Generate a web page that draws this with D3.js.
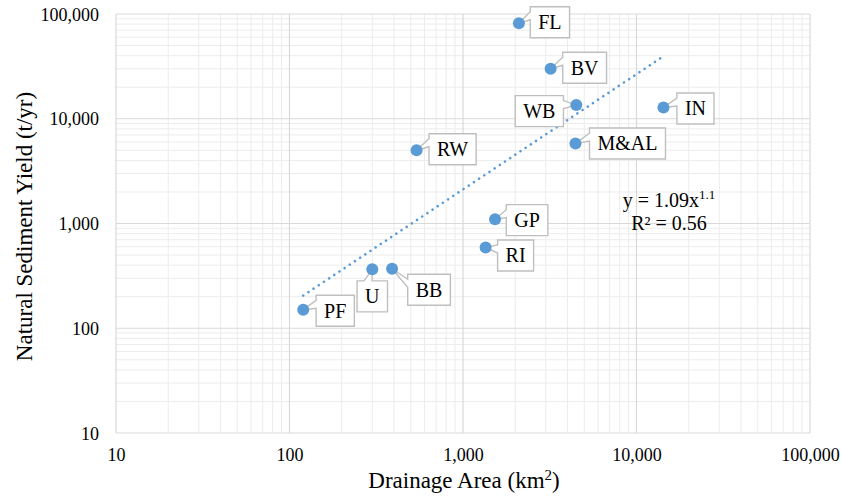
<!DOCTYPE html>
<html>
<head>
<meta charset="utf-8">
<script src="https://cdn.jsdelivr.net/npm/d3@7/dist/d3.min.js"></script>
<style>
  body { margin: 0; background: #fff; }
  text { font-family: "Liberation Serif", "Times New Roman", serif; fill: #000; }
</style>
</head>
<body>
<div id="chart"></div>
<script>
// data
const sites = ['PF', 'U', 'BB', 'RI', 'GP', 'RW', 'FL', 'BV', 'WB', 'M&AL', 'IN'];
const drainageArea = [120, 300, 390, 1350, 1530, 540, 2100, 3200, 4500, 4450, 14300];
const sedimentYield = [150, 365, 370, 590, 1100, 5000, 81500, 30000, 13500, 5800, 12800];
const xTicks = [10, 100, 1000, 10000, 100000];
const yTicks = [10, 100, 1000, 10000, 100000];
const eqLine1 = 'y = 1.09x';
const eqExp = '1.1';
const eqLine2 = 'R² = 0.56';

let margin = { top: 14, left: 116, right: 31, bottom: 63 },
  W = 841, H = 496,
  width = W - margin.left - margin.right,
  height = H - margin.top - margin.bottom;

// where each callout box sits relative to its point
const labelOffset = {
  'PF': [32, 1], 'U': [0, 27], 'BB': [37, 21], 'RI': [30, 8], 'GP': [32, 1],
  'RW': [36, -1], 'FL': [31, -1], 'BV': [34, -1], 'WB': [-37, 6],
  'M&AL': [52, 0], 'IN': [32, 1]
};

let svg = d3.select('#chart').append('svg')
  .attr('width', W).attr('height', H);

let x = d3.scaleLog().domain([10, 100000]).range([margin.left, margin.left + width]);
let y = d3.scaleLog().domain([10, 100000]).range([margin.top + height, margin.top]);

// minor grid
let minors = [];
for (let d = 10; d < 100000; d *= 10) {
  for (let k = 2; k <= 9; k++) minors.push(d * k);
}
let grid = svg.append('g');
grid.selectAll('.mx').data(minors).enter().append('line')
  .attr('x1', d => x(d)).attr('x2', d => x(d))
  .attr('y1', margin.top).attr('y2', margin.top + height)
  .attr('stroke', '#ececec').attr('stroke-width', 1);
grid.selectAll('.my').data(minors).enter().append('line')
  .attr('y1', d => y(d)).attr('y2', d => y(d))
  .attr('x1', margin.left).attr('x2', margin.left + width)
  .attr('stroke', '#ececec').attr('stroke-width', 1);
// major grid
grid.selectAll('.Mx').data(xTicks).enter().append('line')
  .attr('x1', d => x(d)).attr('x2', d => x(d))
  .attr('y1', margin.top).attr('y2', margin.top + height)
  .attr('stroke', '#d9d9d9').attr('stroke-width', 1.2);
grid.selectAll('.My').data(yTicks).enter().append('line')
  .attr('y1', d => y(d)).attr('y2', d => y(d))
  .attr('x1', margin.left).attr('x2', margin.left + width)
  .attr('stroke', '#d9d9d9').attr('stroke-width', 1.2);

// axes (labels only, lines come from the grid)
let fmt = d3.format(',');
let xAxis = svg.append('g')
  .attr('transform', `translate(0,${margin.top + height})`)
  .call(d3.axisBottom(x).tickValues(xTicks).tickFormat(fmt).tickSize(0).tickPadding(0));
xAxis.select('.domain').remove();
xAxis.selectAll('text').attr('y', 28).attr('dy', null)
  .style('font-size', '18px').style('font-family', '"Liberation Serif", serif').attr('fill', '#000');

let yAxis = svg.append('g')
  .attr('transform', `translate(${margin.left},0)`)
  .call(d3.axisLeft(y).tickValues(yTicks).tickFormat(fmt).tickSize(0).tickPadding(17));
yAxis.select('.domain').remove();
yAxis.selectAll('text').attr('dy', '0.34em')
  .style('font-size', '18px').style('font-family', '"Liberation Serif", serif').attr('fill', '#000');

// axis titles
let xt = svg.append('text')
  .attr('x', margin.left + width / 2 + 1).attr('y', 488)
  .attr('text-anchor', 'middle').style('font-size', '23px');
xt.append('tspan').text('Drainage Area (km');
xt.append('tspan').text('2').style('font-size', '15px').attr('dy', -8);
xt.append('tspan').text(')').attr('dy', 8);

svg.append('text')
  .attr('transform', `translate(32,${margin.top + height / 2 + 3}) rotate(-90)`)
  .attr('text-anchor', 'middle').style('font-size', '23px')
  .text('Natural Sediment Yield (t/yr)');

// power trendline, fitted in log space
let lx = drainageArea.map(Math.log10), ly = sedimentYield.map(Math.log10);
let mx = d3.mean(lx), my = d3.mean(ly);
let b = d3.sum(lx, (v, i) => (v - mx) * (ly[i] - my)) / d3.sum(lx, v => (v - mx) * (v - mx));
let a = my - b * mx;
let ext = d3.extent(drainageArea);
let trend = [ext[0], ext[1]].map(v => [v, Math.pow(10, a + b * Math.log10(v))]);
svg.append('path')
  .attr('d', d3.line().x(d => x(d[0])).y(d => y(d[1]))(trend))
  .attr('fill', 'none').attr('stroke', '#5B9BD5')
  .attr('stroke-width', 2.6).attr('stroke-linecap', 'round')
  .attr('stroke-dasharray', '0.01 6.2');

// equation
let eq = svg.append('text').attr('x', 669).attr('y', 207)
  .attr('text-anchor', 'middle').style('font-size', '20px');
eq.append('tspan').text(eqLine1);
eq.append('tspan').text(eqExp).style('font-size', '13px').attr('dy', -8);
svg.append('text').attr('x', 669).attr('y', 230)
  .attr('text-anchor', 'middle').style('font-size', '20px').text(eqLine2);

// callout labels
let pts = sites.map((s, i) => ({ name: s, px: x(drainageArea[i]), py: y(sedimentYield[i]) }));
let labels = svg.append('g');
pts.forEach(function(p) {
  let g = labels.append('g');
  let path = g.append('path');
  let cx = p.px + labelOffset[p.name][0], cy = p.py + labelOffset[p.name][1];
  let t = g.append('text').attr('x', cx).attr('y', cy).attr('dy', '0.34em')
    .attr('text-anchor', 'middle').style('font-size', '20px').text(p.name);
  let tw = t.node().getComputedTextLength();
  let hw = tw / 2 + 8, hh = 15.5;
  let x0 = cx - hw, x1 = cx + hw, y0 = cy - hh, y1 = cy + hh;
  let rx = (p.px - cx) / hw, ry = (p.py - cy) / hh;
  let d;
  if (Math.abs(rx) > Math.abs(ry)) {
    if (rx < 0) {
      d = `M${x0},${y0}H${x1}V${y1}H${x0}V${y0 + 13}L${p.px},${p.py}L${x0},${y0 + 5}Z`;
    } else {
      d = `M${x0},${y0}H${x1}V${y0 + 5}L${p.px},${p.py}L${x1},${y0 + 13}V${y1}H${x0}Z`;
    }
  } else {
    if (ry < 0) {
      d = `M${x0},${y0}H${x0 + 7}L${p.px},${p.py}L${x0 + 15},${y0}H${x1}V${y1}H${x0}Z`;
    } else {
      d = `M${x0},${y0}H${x1}V${y1}H${x0 + 15}L${p.px},${p.py}L${x0 + 7},${y1}H${x0}Z`;
    }
  }
  path.attr('d', d).attr('fill', '#fff').attr('stroke', '#bfbfbf').attr('stroke-width', 1.4);
});

// points
svg.append('g').selectAll('circle').data(pts).enter().append('circle')
  .attr('cx', d => d.px).attr('cy', d => d.py).attr('r', 6)
  .attr('fill', '#5B9BD5');
</script>
</body>
</html>
